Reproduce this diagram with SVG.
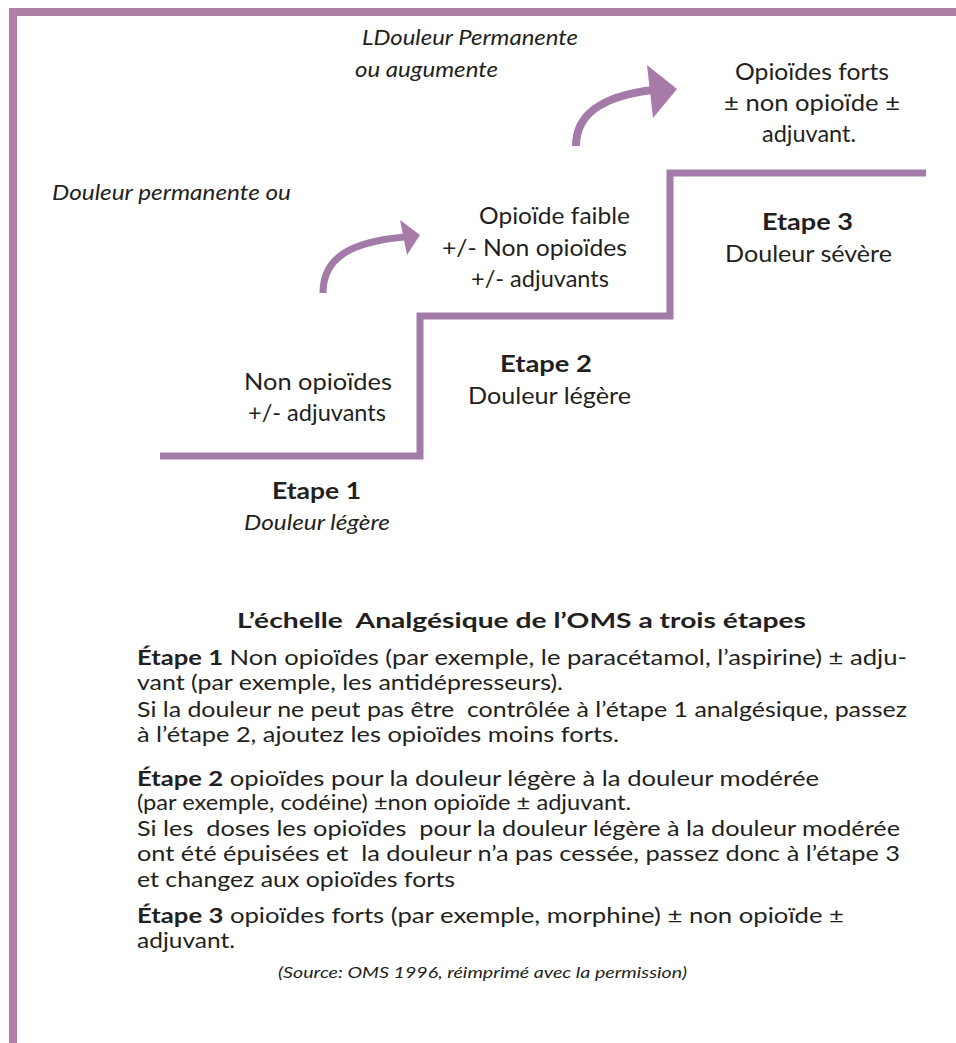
<svg xmlns="http://www.w3.org/2000/svg" width="956" height="1043" viewBox="0 0 956 1043">
<style>
text{font-family:Lato,"Liberation Sans",sans-serif;fill:#231f20;font-size:21px;white-space:pre}
.t{font-size:22.5px}
.i{font-style:italic}
.b{font-weight:bold}
.s{font-size:15px}
.line{fill:none;stroke:#a27ba9;stroke-width:7}
</style>
<rect width="956" height="1043" fill="#fff"/>
<path d="M13,1043 V12 H956" fill="none" stroke="#b07fa8" stroke-width="8"/>
<g id="stairs">
<path class="line" d="M160,456 H420 V316 H670 V173 H926"/>
</g>
<g id="connectors">
<path d="M323,293 C323,258 350,242 404,237" fill="none" stroke="#a27ba9" stroke-width="7"/>
<path d="M400,220 L420,235 L407,255 Z" fill="#a87aa8"/>
<path d="M576,146 C576,112 605,96 652,90" fill="none" stroke="#a27ba9" stroke-width="8"/>
<path d="M647,65 L677,89 L653,118 Z" fill="#a87aa8"/>
</g>
<g id="labels-top">
<text class="i" x="362" y="45" textLength="216" lengthAdjust="spacingAndGlyphs">LDouleur Permanente</text>
<text class="i" x="355" y="77" textLength="143" lengthAdjust="spacingAndGlyphs">ou augumente</text>
<text class="i" x="52" y="200" textLength="239" lengthAdjust="spacingAndGlyphs">Douleur permanente ou</text>
</g>
<g id="step3">
<text class="t" x="735" y="80" textLength="154" lengthAdjust="spacingAndGlyphs">Opioïdes forts</text>
<text class="t" x="724" y="111" textLength="176" lengthAdjust="spacingAndGlyphs">± non opioïde ±</text>
<text class="t" x="762" y="142" textLength="94" lengthAdjust="spacingAndGlyphs">adjuvant.</text>
<text class="b t" x="762" y="230" textLength="91" lengthAdjust="spacingAndGlyphs">Etape 3</text>
<text class="t" x="725" y="262" textLength="167" lengthAdjust="spacingAndGlyphs">Douleur sévère</text>
</g>
<g id="step2">
<text class="t" x="479" y="224" textLength="151" lengthAdjust="spacingAndGlyphs">Opioïde faible</text>
<text class="t" x="442" y="256" textLength="185" lengthAdjust="spacingAndGlyphs">+/- Non opioïdes</text>
<text class="t" x="471" y="287" textLength="138" lengthAdjust="spacingAndGlyphs">+/- adjuvants</text>
<text class="b t" x="500" y="372" textLength="92" lengthAdjust="spacingAndGlyphs">Etape 2</text>
<text class="t" x="468" y="404" textLength="163" lengthAdjust="spacingAndGlyphs">Douleur légère</text>
</g>
<g id="step1">
<text class="t" x="244" y="390" textLength="148" lengthAdjust="spacingAndGlyphs">Non opioïdes</text>
<text class="t" x="248" y="421" textLength="138" lengthAdjust="spacingAndGlyphs">+/- adjuvants</text>
<text class="b t" x="272" y="499" textLength="89" lengthAdjust="spacingAndGlyphs">Etape 1</text>
<text class="i" x="244" y="530" textLength="146" lengthAdjust="spacingAndGlyphs">Douleur légère</text>
</g>
<g id="explanation">
<text class="b" x="237" y="628" textLength="569" lengthAdjust="spacingAndGlyphs">L’échelle  Analgésique de l’OMS a trois étapes</text>
<text x="137" y="665" textLength="770" lengthAdjust="spacingAndGlyphs"><tspan class="b">Étape 1</tspan> Non opioïdes (par exemple, le paracétamol, l’aspirine) ± adju-</text>
<text x="137" y="690" textLength="426" lengthAdjust="spacingAndGlyphs">vant (par exemple, les antidépresseurs).</text>
<text x="137" y="717" textLength="770" lengthAdjust="spacingAndGlyphs">Si la douleur ne peut pas être  contrôlée à l’étape 1 analgésique, passez</text>
<text x="137" y="742" textLength="482" lengthAdjust="spacingAndGlyphs">à l’étape 2, ajoutez les opioïdes moins forts.</text>
<text x="137" y="786" textLength="682" lengthAdjust="spacingAndGlyphs"><tspan class="b">Étape 2</tspan> opioïdes pour la douleur légère à la douleur modérée</text>
<text x="137" y="810" textLength="494" lengthAdjust="spacingAndGlyphs">(par exemple, codéine) ±non opioïde ± adjuvant.</text>
<text x="137" y="836" textLength="763" lengthAdjust="spacingAndGlyphs">Si les  doses les opioïdes  pour la douleur légère à la douleur modérée</text>
<text x="137" y="861" textLength="763" lengthAdjust="spacingAndGlyphs">ont été épuisées et  la douleur n’a pas cessée, passez donc à l’étape 3</text>
<text x="137" y="887" textLength="318" lengthAdjust="spacingAndGlyphs">et changez aux opioïdes forts</text>
<text x="137" y="923" textLength="707" lengthAdjust="spacingAndGlyphs"><tspan class="b">Étape 3</tspan> opioïdes forts (par exemple, morphine) ± non opioïde ±</text>
<text x="137" y="948" textLength="98" lengthAdjust="spacingAndGlyphs">adjuvant.</text>
<text class="i s" x="278" y="978" textLength="409" lengthAdjust="spacingAndGlyphs">(Source: OMS 1996, réimprimé avec la permission)</text>
</g>
</svg>
